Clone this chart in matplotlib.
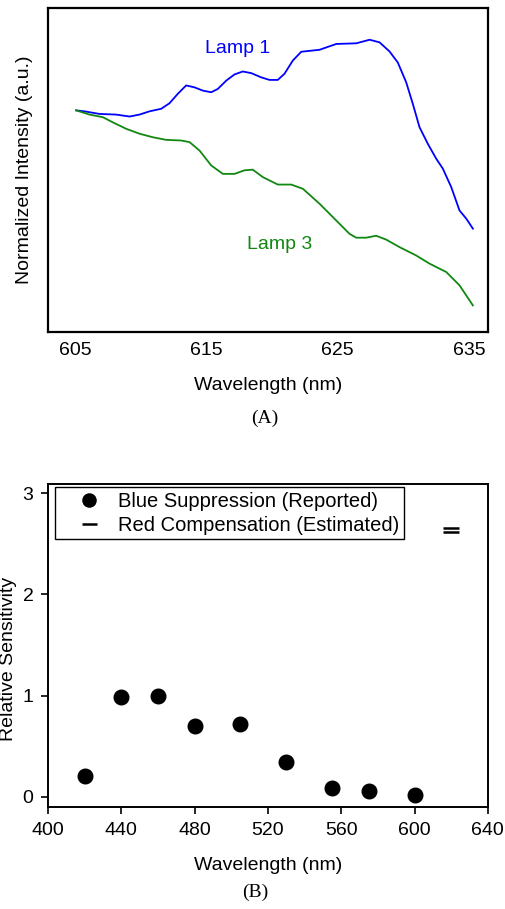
import numpy as np
import matplotlib.pyplot as plt

plt.rcParams['font.family'] = ['Liberation Sans', 'DejaVu Sans']

# Panel A: normalized spectra of two lamps
lamp1_wl = [605.05, 605.69, 606.83, 608.10, 609.12, 609.88, 610.64, 611.54, 612.17, 612.80,
            613.44, 614.08, 614.71, 615.35, 615.85, 616.50, 617.13, 617.76, 618.40, 619.16,
            619.80, 620.43, 620.94, 621.58, 622.22, 623.61, 624.89, 626.41, 627.43, 628.19,
            628.95, 629.58, 630.22, 630.73, 631.24, 631.87, 632.51, 633.02, 633.66, 634.29,
            634.80, 635.31]
lamp1_int = [0.684, 0.681, 0.673, 0.671, 0.665, 0.671, 0.681, 0.689, 0.706, 0.735,
             0.761, 0.755, 0.745, 0.740, 0.750, 0.776, 0.795, 0.804, 0.799, 0.786,
             0.778, 0.778, 0.797, 0.838, 0.865, 0.871, 0.889, 0.891, 0.902, 0.894,
             0.866, 0.832, 0.771, 0.704, 0.632, 0.581, 0.535, 0.504, 0.447, 0.375,
             0.350, 0.319]

lamp3_wl = [605.05, 606.07, 607.08, 607.85, 608.87, 609.88, 610.90, 611.92, 613.06, 613.70,
            614.46, 615.35, 616.24, 617.13, 617.89, 618.52, 619.29, 620.43, 621.45, 622.34,
            623.61, 624.89, 625.90, 626.41, 627.17, 627.93, 628.70, 629.71, 630.99, 632.00,
            633.28, 634.29, 635.31]
lamp3_int = [0.684, 0.671, 0.663, 0.647, 0.627, 0.612, 0.601, 0.593, 0.591, 0.586,
             0.560, 0.514, 0.488, 0.488, 0.499, 0.501, 0.478, 0.455, 0.455, 0.442,
             0.396, 0.344, 0.303, 0.291, 0.291, 0.297, 0.285, 0.262, 0.236, 0.211,
             0.185, 0.144, 0.082]

# Panel B: relative sensitivity
blue_wl = [420, 440, 460, 480, 505, 530, 555, 575, 600]
blue_sens = [0.21, 0.99, 1.0, 0.70, 0.72, 0.34, 0.09, 0.06, 0.02]
red_wl = [620, 620]
red_sens = [2.66, 2.62]

FS = 14
fig = plt.figure(figsize=(5.05, 9.09), dpi=100)

# ---- (A)
ax1 = fig.add_axes([0.095, 0.6348, 0.871, 0.3564])
ax1.plot(lamp1_wl, lamp1_int, color='#0000ff', lw=1.3)
ax1.plot(lamp3_wl, lamp3_int, color='#118811', lw=1.3)
ax1.set_xlim(602.9, 636.45)
ax1.set_ylim(0, 1)
ax1.set_xticks([605, 615, 625, 635])
ax1.set_yticks([])
ax1.tick_params(axis='x', length=0, labelsize=FS, pad=7.5)
for s in ax1.spines.values():
    s.set_linewidth(1.6)
ax1.text(617.4, 0.875, 'Lamp 1', color='#0000ff', fontsize=FS, ha='center', va='center')
ax1.text(620.6, 0.27, 'Lamp 3', color='#118811', fontsize=FS, ha='center', va='center')
ax1.set_xlabel('Wavelength (nm)', fontsize=FS, labelpad=13)
ax1.set_ylabel('Normalized Intensity (a.u.)', fontsize=FS)
ax1.yaxis.set_label_coords(-0.034, 0.5)
fig.text(0.525, 1 - 418 / 909, '(A)', family=['Liberation Serif'], fontsize=FS,
         ha='center', va='center')

# ---- (B)
ax2 = fig.add_axes([0.095, 0.1122, 0.871, 0.3553])
ax2.plot(blue_wl, blue_sens, 'o', color='black', ms=10.5, ls='none',
         label='Blue Suppression (Reported)')
ax2.plot(red_wl, red_sens, '_', color='black', ms=12, mew=1.8, ls='none',
         label='Red Compensation (Estimated)')
ax2.set_xlim(400, 640)
ax2.set_ylim(-0.1, 3.09)
ax2.set_xticks(np.arange(400, 641, 40))
ax2.set_yticks([0, 1, 2, 3])
ax2.tick_params(direction='out', length=5, width=1.2, labelsize=FS, pad=5.5,
                top=False, right=False)
for s in ax2.spines.values():
    s.set_linewidth(1.4)
ax2.set_xlabel('Wavelength (nm)', fontsize=FS, labelpad=13)
ax2.set_ylabel('Relative Sensitivity', fontsize=FS)
ax2.yaxis.set_label_coords(-0.070, 0.46)
leg = ax2.legend(loc='upper left', bbox_to_anchor=(0.016, 0.99), borderaxespad=0,
                 fontsize=14.5, frameon=True, fancybox=False, edgecolor='black',
                 framealpha=1, borderpad=0.22, handlelength=2.9, handletextpad=0.0,
                 labelspacing=0.25, markerscale=0.9)
leg.get_frame().set_linewidth(1.0)
fig.text(0.505, 1 - 892 / 909, '(B)', family=['Liberation Serif'], fontsize=FS,
         ha='center', va='center')

fig.savefig('out.png', dpi=100)
